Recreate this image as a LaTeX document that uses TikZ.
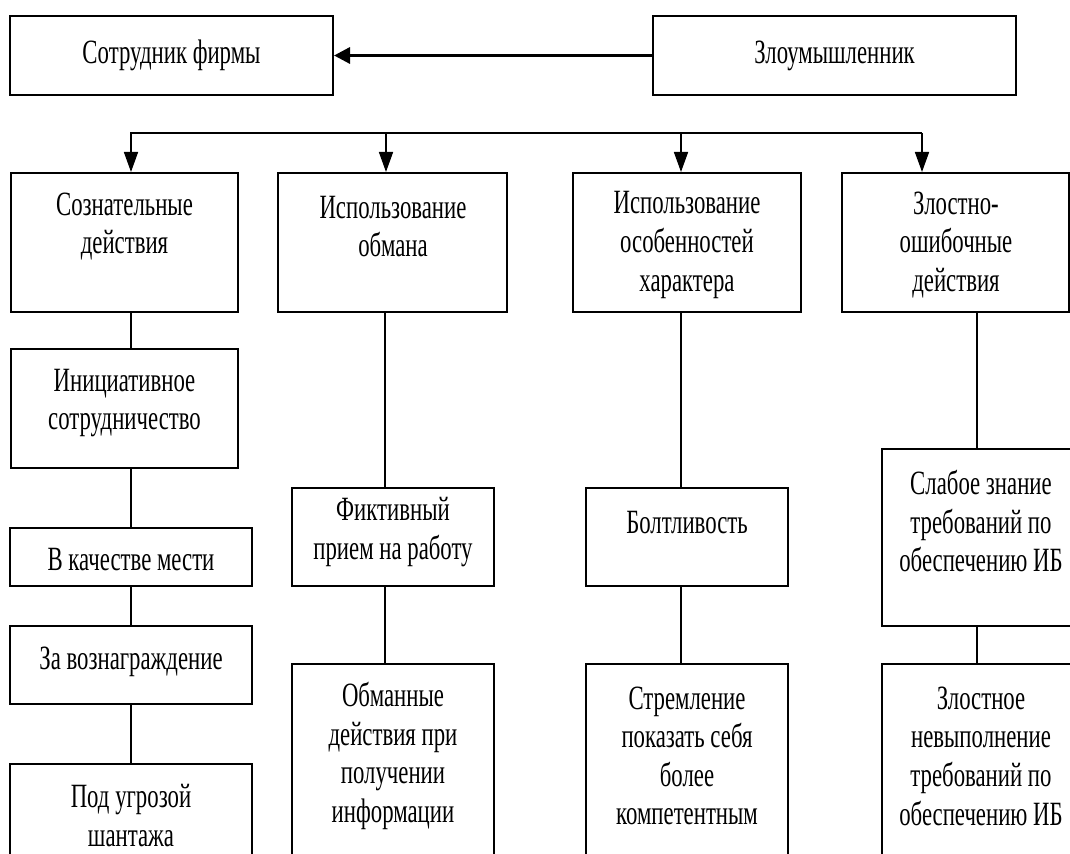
\documentclass[tikz,border=0pt]{standalone}
\usepackage{fontspec}
\setmainfont{Liberation Serif}[FakeStretch=0.67]
\usetikzlibrary{arrows.meta,fit}

\tikzset{
    box/.style={draw, line width=1pt, inner sep=0pt},
    txt/.style={align=center, inner sep=0pt, font=\fontsize{17}{19.3}\selectfont},
    link/.style={line width=0.8pt},
    arr/.style={line width=0.8pt, -{Triangle[length=10pt,width=7pt]}},
}

\begin{document}
\begin{tikzpicture}[x=0.5pt,y=-0.5pt]
    \useasboundingbox (0,0) rectangle (1070,854);
    \clip (0,0) rectangle (1070,854);

    % top row
    \node[box, fit={(10,16) (333,95)}] (firm) {};
    \node[txt] (firmT) at (firm.center) {Сотрудник фирмы};
    \node[box, fit={(653,16) (1016,95)}] (evil) {};
    \node[txt] (evilT) at (evil.center) {Злоумышленник};
    \draw[line width=1.6pt, -{Triangle[length=8pt,width=8pt]}] (evil.west) -- (firm.east);

    % second row
    \node[box, fit={(11,173) (238,312)}] (a1) {};
    \node[txt] (a1T) at (124.5,226.5) {Сознательные\\действия};
    \node[box, fit={(278,173) (507,312)}] (b1) {};
    \node[txt] (b1T) at (393,226.5) {Использование\\обмана};
    \node[box, fit={(573,173) (801,312)}] (c1) {};
    \node[txt] (c1T) at (687,245) {Использование\\особенностей\\характера};
    \node[box, fit={(842,173) (1069,312)}] (d1) {};
    \node[txt] (d1T) at (956,245) {Злостно-\\ошибочные\\действия};

    \coordinate (busL) at (131,133);
    \coordinate (busB) at (386,133);
    \coordinate (busC) at (681,133);
    \coordinate (busR) at (922,133);
    \draw[arr] (busR) -- (busL) -- (busL |- a1.north);
    \draw[arr] (busB) -- (busB |- b1.north);
    \draw[arr] (busC) -- (busC |- c1.north);
    \draw[arr] (busR) -- (busR |- d1.north);

    % column A
    \coordinate (colA) at (131,0);
    \node[box, fit={(11,349) (238,468)}] (a2) {};
    \node[txt] (a2T) at (124.5,403) {Инициативное\\сотрудничество};
    \node[box, fit={(10,528) (252,586)}] (a3) {};
    \node[txt] (a3T) at (131,560) {В качестве мести};
    \node[box, fit={(10,626) (252,704)}] (a4) {};
    \node[txt] (a4T) at (131,662) {За вознаграждение};
    \node[box, fit={(10,764) (252,900)}] (a5) {};
    \node[txt] (a5T) at (131,815.5) {Под угрозой\\шантажа};
    \draw[link] (a1.south -| colA) -- (a2.north -| colA);
    \draw[link] (a2.south -| colA) -- (a3.north -| colA);
    \draw[link] (a3.south -| colA) -- (a4.north -| colA);
    \draw[link] (a4.south -| colA) -- (a5.north -| colA);

    % column B
    \coordinate (colB) at (385,0);
    \node[box, fit={(292,488) (494,586)}] (b2) {};
    \node[txt] (b2T) at (393,532) {Фиктивный\\прием на работу};
    \node[box, fit={(292,664) (494,900)}] (b3) {};
    \node[txt] (b3T) at (393,756) {Обманные\\действия при\\получении\\информации};
    \draw[link] (b1.south -| colB) -- (b2.north -| colB);
    \draw[link] (b2.south -| colB) -- (b3.north -| colB);

    % column C
    \coordinate (colC) at (681,0);
    \node[box, fit={(586,488) (788,586)}] (c2) {};
    \node[txt] (c2T) at (687,523) {Болтливость};
    \node[box, fit={(586,664) (788,900)}] (c3) {};
    \node[txt] (c3T) at (687,756) {Стремление\\показать себя\\более\\компетентным};
    \draw[link] (c1.south -| colC) -- (c2.north -| colC);
    \draw[link] (c2.south -| colC) -- (c3.north -| colC);

    % column D
    \coordinate (colD) at (977,0);
    \node[box, fit={(882,449) (1080,626)}] (d2) {};
    \node[txt] (d2T) at (981,521) {Слабое знание\\требований по\\обеспечению ИБ};
    \node[box, fit={(882,664) (1080,900)}] (d3) {};
    \node[txt] (d3T) at (981,756) {Злостное\\невыполнение\\требований по\\обеспечению ИБ};
    \draw[link] (d1.south -| colD) -- (d2.north -| colD);
    \draw[link] (d2.south -| colD) -- (d3.north -| colD);
\end{tikzpicture}
\end{document}
